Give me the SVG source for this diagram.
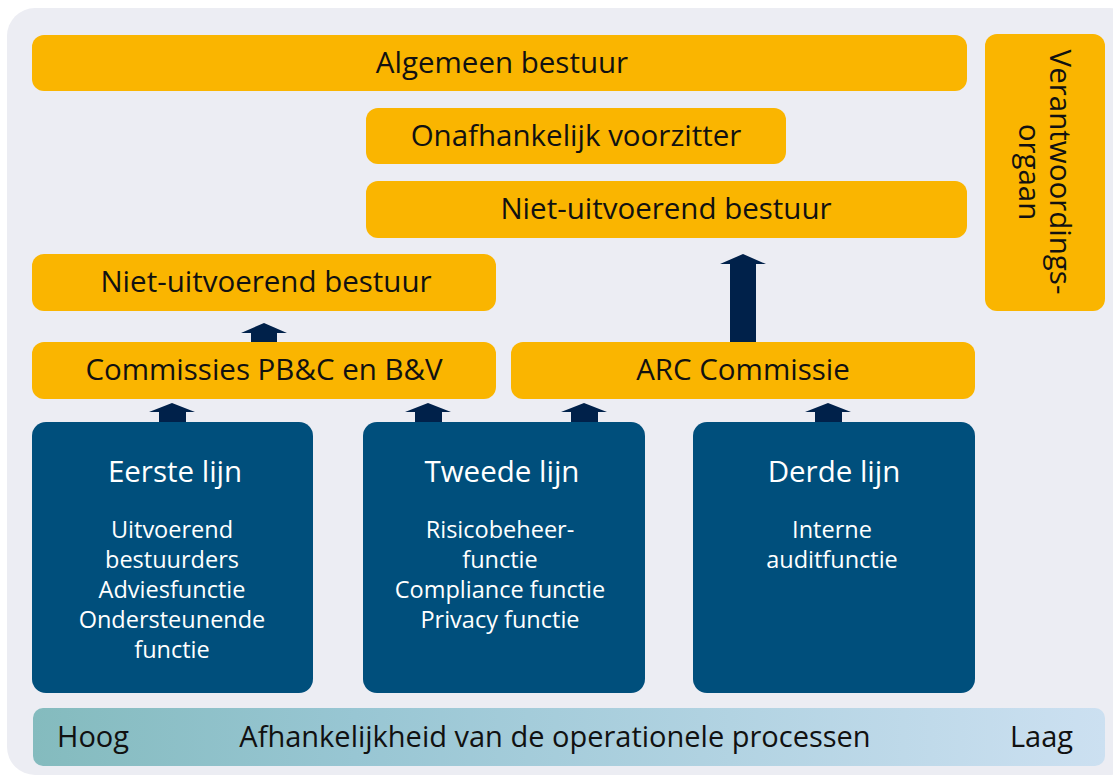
<svg xmlns="http://www.w3.org/2000/svg" width="1113" height="782" viewBox="0 0 1113 782">
<style>
.y{fill:#FAB500}
.b{fill:#004F7C}
.a{fill:#00214A}
.t{font-family:"Open Sans","Liberation Sans",sans-serif;font-size:29.5px;fill:#111;text-anchor:middle}
.w{font-family:"Open Sans","Liberation Sans",sans-serif;fill:#fff;text-anchor:middle}
.h{font-size:29.5px}
.s{font-size:23.5px}
.g{font-family:"Open Sans","Liberation Sans",sans-serif;font-size:29px;fill:#111}
</style>
<defs>
<linearGradient id="grad" x1="0" y1="0" x2="1" y2="0">
<stop offset="0" stop-color="#84BBBE"/>
<stop offset="0.3" stop-color="#98C6D3"/>
<stop offset="1" stop-color="#CCE0F1"/>
</linearGradient>
</defs>
<rect x="7" y="8" width="1130" height="767" rx="28" fill="#ECEDF3"/>
<g id="algemeen-bestuur"><rect class="y" x="32" y="35" width="935" height="56" rx="12"/><text class="t" x="502" y="73">Algemeen bestuur</text></g>
<g id="verantwoordingsorgaan"><rect class="y" x="985" y="34" width="120" height="277" rx="12"/><text class="t" transform="translate(1045,172) rotate(90)"><tspan x="0" y="-5">Verantwoordings-</tspan><tspan x="0" y="26">orgaan</tspan></text></g>
<g id="onafhankelijk-voorzitter"><rect class="y" x="366" y="108" width="420" height="56" rx="12"/><text class="t" x="576" y="146">Onafhankelijk voorzitter</text></g>
<g id="niet-uitvoerend-rechts"><rect class="y" x="366" y="181" width="601" height="57" rx="12"/><text class="t" x="666" y="219">Niet-uitvoerend bestuur</text></g>
<g id="niet-uitvoerend-links"><rect class="y" x="32" y="254" width="464" height="57" rx="12"/><text class="t" x="266" y="292">Niet-uitvoerend bestuur</text></g>
<g id="commissies"><rect class="y" x="32" y="342" width="464" height="57" rx="12"/><text class="t" x="264" y="380">Commissies PB&amp;C en B&amp;V</text></g>
<g id="arc-commissie"><rect class="y" x="511" y="342" width="464" height="57" rx="12"/><text class="t" x="743" y="380">ARC Commissie</text></g>
<g id="eerste-lijn"><rect class="b" x="32" y="422" width="281" height="271" rx="14"/>
<text class="w h" x="175" y="482">Eerste lijn</text>
<text class="w s"><tspan x="172" y="538">Uitvoerend</tspan><tspan x="172" y="568">bestuurders</tspan><tspan x="172" y="598">Adviesfunctie</tspan><tspan x="172" y="628">Ondersteunende</tspan><tspan x="172" y="658">functie</tspan></text></g>
<g id="tweede-lijn"><rect class="b" x="363" y="422" width="282" height="271" rx="14"/>
<text class="w h" x="502" y="482">Tweede lijn</text>
<text class="w s"><tspan x="500" y="538">Risicobeheer-</tspan><tspan x="500" y="568">functie</tspan><tspan x="500" y="598">Compliance functie</tspan><tspan x="500" y="628">Privacy functie</tspan></text></g>
<g id="derde-lijn"><rect class="b" x="693" y="422" width="282" height="271" rx="14"/>
<text class="w h" x="834" y="482">Derde lijn</text>
<text class="w s"><tspan x="832" y="538">Interne</tspan><tspan x="832" y="568">auditfunctie</tspan></text></g>
<g id="connectors">
<polygon class="a" points="251,342 251,333 241,333 264,323 287,333 277,333 277,342"/>
<polygon class="a" points="730,342 730,264 720,264 743,254 766,264 756,264 756,342"/>
<polygon class="a" points="159,422 159,412 149,412 172,403 195,412 186,412 186,422"/>
<polygon class="a" points="415,422 415,412 405,412 428,403 451,412 442,412 442,422"/>
<polygon class="a" points="571,422 571,412 561,412 584,403 607,412 598,412 598,422"/>
<polygon class="a" points="815,422 815,412 805,412 828,403 851,412 842,412 842,422"/>
</g>
<g id="afhankelijkheid"><rect x="33" y="708" width="1072" height="58" rx="10" fill="url(#grad)"/>
<text class="g" x="57" y="747">Hoog</text>
<text class="g" x="555" y="747" text-anchor="middle">Afhankelijkheid van de operationele processen</text>
<text class="g" x="1073" y="747" text-anchor="end">Laag</text></g>
</svg>
